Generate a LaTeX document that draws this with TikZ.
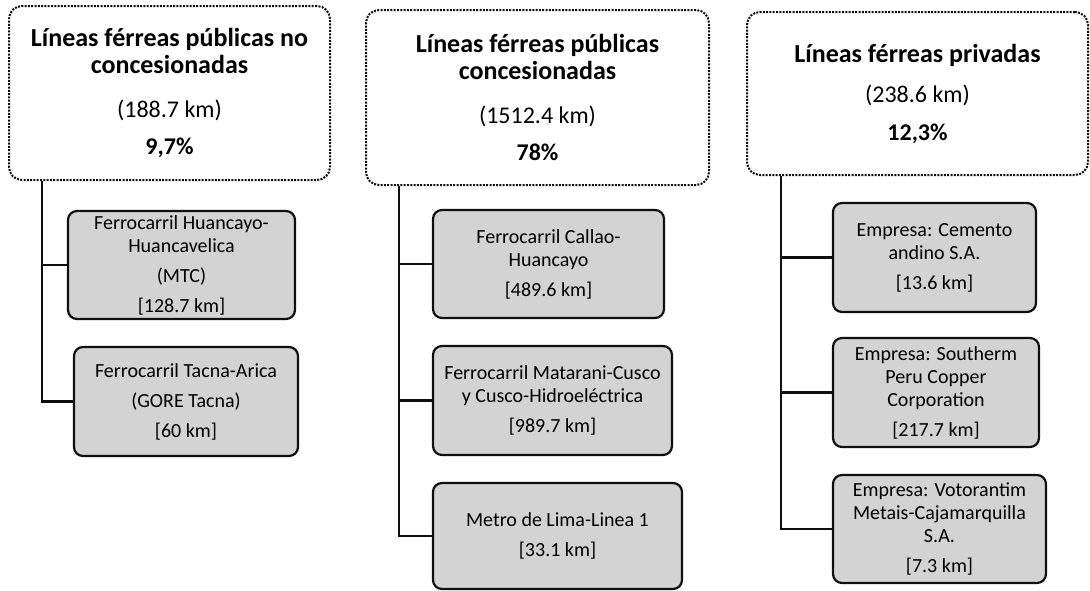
\documentclass[tikz,border=0pt]{standalone}
\usepackage{fontspec}
\setmainfont{Carlito}
\usetikzlibrary{positioning}
\definecolor{leafgray}{RGB}{211, 211, 211}
\definecolor{edgeblack}{RGB}{15, 15, 15}
\newcommand{\headfont}{\fontsize{26}{27}\selectfont\bfseries}

\begin{document}
\begin{tikzpicture}[x=1pt, y=-1pt,
  topbox/.style={draw=edgeblack, line width=2pt, dash pattern=on 2pt off 1.3pt,
    rounded corners=13pt, align=center, inner sep=0pt, font=\fontsize{24}{27}\selectfont},
  leafbox/.style={draw=edgeblack, fill=leafgray, line width=2.2pt,
    rounded corners=9pt, align=center, inner sep=0pt, font=\fontsize{20}{23}\selectfont},
  link/.style={draw=edgeblack, line width=2.2pt}]

  \useasboundingbox (0,0) rectangle (1090,590);

  % --- top categories ---
  \node[topbox, minimum width=321pt, minimum height=174pt] (pubno) at (169.5,93)
    {{\headfont Líneas férreas públicas no}\\ {\headfont concesionadas}\\[17pt]
     (188.7 km)\\[10pt] \textbf{9,7\%}};
  \node[topbox, minimum width=343pt, minimum height=175pt] (pubcon) at (537.5,97.5)
    {{\headfont Líneas férreas públicas}\\ {\headfont concesionadas}\\[17pt]
     (1512.4 km)\\[10pt] \textbf{78\%}};
  \node[topbox, minimum width=341pt, minimum height=163pt] (priv) at (917.5,93.5)
    {{\headfont Líneas férreas privadas}\\[13pt]
     (238.6 km)\\[11pt] \textbf{12,3\%}};

  % --- public, not under concession ---
  \node[leafbox, minimum width=227pt, minimum height=108pt] (huanc) at (181.5,265)
    {Ferrocarril Huancayo-\\ Huancavelica\\[7pt] (MTC)\\[7pt] {[128.7 km]}};
  \node[leafbox, minimum width=224pt, minimum height=109pt] (tacna) at (186,401.5)
    {Ferrocarril Tacna-Arica\\[7pt] (GORE Tacna)\\[7pt] {[60 km]}};

  % --- public, under concession ---
  \node[leafbox, minimum width=231pt, minimum height=108pt] (callao) at (548.5,264)
    {Ferrocarril Callao-\\ Huancayo\\[7pt] {[489.6 km]}};
  \node[leafbox, minimum width=239pt, minimum height=109pt] (matar) at (552.5,400.5)
    {Ferrocarril Matarani-Cusco\\ y Cusco-Hidroeléctrica\\[7pt] {[989.7 km]}};
  \node[leafbox, minimum width=249pt, minimum height=106pt] (metro) at (557.5,536)
    {Metro de Lima-Linea 1\\[7pt] {[33.1 km]}};

  % --- private ---
  \node[leafbox, minimum width=203pt, minimum height=109pt] (cemento) at (934.5,257.5)
    {Empresa: Cemento\\ andino S.A.\\[7pt] {[13.6 km]}};
  \node[leafbox, minimum width=206pt, minimum height=109pt] (south) at (936,392.5)
    {Empresa: Southerm\\ Peru Copper\\ Corporation\\[7pt] {[217.7 km]}};
  \node[leafbox, minimum width=213pt, minimum height=108pt] (votor) at (939.5,529)
    {Empresa: Votorantim\\ Metais-Cajamarquilla\\ S.A.\\[7pt] {[7.3 km]}};

  % --- trunks and branches ---
  \draw[link] ([xshift=34pt]pubno.south west) |- (huanc.west);
  \draw[link] ([xshift=34pt]pubno.south west) |- (tacna.west);

  \draw[link] ([xshift=34pt]pubcon.south west) |- (callao.west);
  \draw[link] ([xshift=34pt]pubcon.south west) |- (matar.west);
  \draw[link] ([xshift=34pt]pubcon.south west) |- (metro.west);

  \draw[link] ([xshift=35pt]priv.south west) |- (cemento.west);
  \draw[link] ([xshift=35pt]priv.south west) |- (south.west);
  \draw[link] ([xshift=35pt]priv.south west) |- (votor.west);

\end{tikzpicture}
\end{document}
